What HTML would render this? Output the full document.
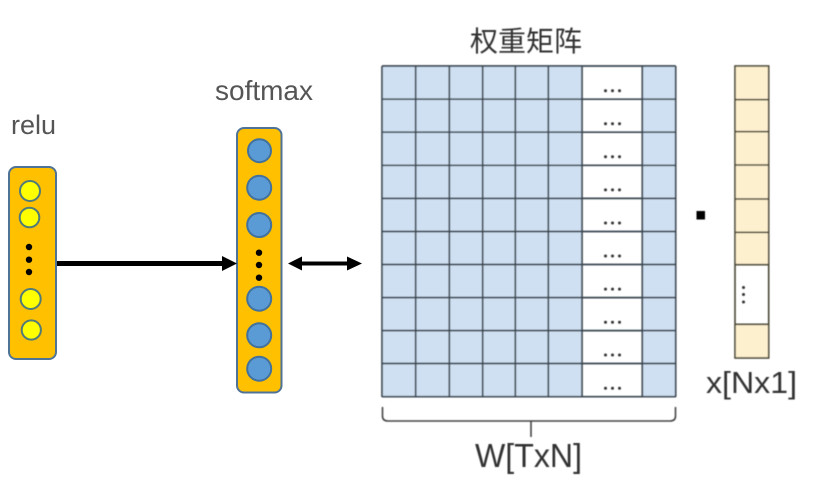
<!DOCTYPE html>
<html><head><meta charset="utf-8"><style>html,body{margin:0;padding:0;background:#fff}svg{display:block}</style></head>
<body>
<svg width="817" height="503" viewBox="0 0 817 503" xmlns="http://www.w3.org/2000/svg">
<defs><filter id="b" x="-5%" y="-5%" width="110%" height="110%"><feGaussianBlur stdDeviation="0.45"/></filter></defs>
<rect width="817" height="503" fill="#fff"/>
<g font-family="'Liberation Sans','Noto Sans CJK SC',sans-serif">
<text x="11" y="134" font-size="27" textLength="45" lengthAdjust="spacingAndGlyphs" fill="#555">relu</text>
<text x="215" y="100" font-size="28" textLength="98" lengthAdjust="spacingAndGlyphs" fill="#555">softmax</text>
</g>

<!-- relu -->
<rect x="9" y="167" width="47" height="192" rx="7" fill="#ffc000" stroke="#4f7396" stroke-width="2"/>
<g fill="#ffff00" stroke="#4f7b78" stroke-width="2">
<circle cx="30" cy="191" r="10"/>
<circle cx="29.5" cy="217.5" r="9.8"/>
<circle cx="30.7" cy="299" r="10"/>
<circle cx="31.3" cy="330" r="9.6"/>
</g>
<g fill="#000"><circle cx="29" cy="247" r="3.2"/><circle cx="29" cy="259.7" r="3.2"/><circle cx="29" cy="272" r="3.2"/></g>

<!-- softmax -->
<rect x="237" y="128" width="44.5" height="264.5" rx="7" fill="#ffc000" stroke="#4f7396" stroke-width="2"/>
<g fill="#5b9bd5" stroke="#41719c" stroke-width="2">
<circle cx="259.5" cy="150.7" r="11.5"/>
<circle cx="259.2" cy="187.7" r="12"/>
<circle cx="259.2" cy="225" r="12"/>
<circle cx="259.2" cy="298.7" r="12"/>
<circle cx="259.2" cy="335.3" r="12"/>
<circle cx="259.2" cy="368.7" r="12"/>
</g>
<g fill="#000"><circle cx="259" cy="252.7" r="3.2"/><circle cx="259" cy="265" r="3.2"/><circle cx="259" cy="277.7" r="3.2"/></g>

<!-- arrows -->
<rect x="57" y="261" width="167" height="5" fill="#000"/>
<polygon points="222,256 237,263.5 222,271" fill="#000"/>
<rect x="298" y="261.5" width="52" height="4" fill="#000"/>
<polygon points="288,263.5 302,256.5 302,270.5" fill="#000"/>
<polygon points="362,263.5 347,256.5 347,270.5" fill="#000"/>

<g filter="url(#b)">
<g font-family="'Liberation Sans','Noto Sans CJK SC',sans-serif">
<text x="470" y="51" font-size="28" textLength="112" fill="#333">权重矩阵</text>
<text x="475" y="467" font-size="33" textLength="107" lengthAdjust="spacingAndGlyphs" fill="#333">W[TxN]</text>
<text x="706" y="393" font-size="31" textLength="91" lengthAdjust="spacingAndGlyphs" fill="#333">x[Nx1]</text>
</g>
<!-- matrix -->
<g fill="#cfe0f2">
<rect x="382" y="66" width="200" height="331"/>
<rect x="642.3" y="66" width="33.4" height="331"/>
</g>
<g stroke="#3a4651" stroke-width="1.7" fill="none">
<path d="M382 66H675.7M382 99.2H675.7M382 132.2H675.7M382 165.3H675.7M382 198.4H675.7M382 231.5H675.7M382 264.5H675.7M382 297.6H675.7M382 330.6H675.7M382 363.5H675.7M382 396.7H675.7"/>
<path d="M382 66V397M415.7 66V397M449.3 66V397M482.7 66V397M515.3 66V397M548.3 66V397M582 66V397M642.3 66V397M675.7 66V397"/>
</g>
<g fill="#333">
<circle cx="605.5" cy="90.7" r="1.5"/><circle cx="612.5" cy="90.7" r="1.5"/><circle cx="619.5" cy="90.7" r="1.5"/>
<circle cx="605.5" cy="123.7" r="1.5"/><circle cx="612.5" cy="123.7" r="1.5"/><circle cx="619.5" cy="123.7" r="1.5"/>
<circle cx="605.5" cy="156.8" r="1.5"/><circle cx="612.5" cy="156.8" r="1.5"/><circle cx="619.5" cy="156.8" r="1.5"/>
<circle cx="605.5" cy="189.9" r="1.5"/><circle cx="612.5" cy="189.9" r="1.5"/><circle cx="619.5" cy="189.9" r="1.5"/>
<circle cx="605.5" cy="223" r="1.5"/><circle cx="612.5" cy="223" r="1.5"/><circle cx="619.5" cy="223" r="1.5"/>
<circle cx="605.5" cy="256" r="1.5"/><circle cx="612.5" cy="256" r="1.5"/><circle cx="619.5" cy="256" r="1.5"/>
<circle cx="605.5" cy="289.1" r="1.5"/><circle cx="612.5" cy="289.1" r="1.5"/><circle cx="619.5" cy="289.1" r="1.5"/>
<circle cx="605.5" cy="322.2" r="1.5"/><circle cx="612.5" cy="322.2" r="1.5"/><circle cx="619.5" cy="322.2" r="1.5"/>
<circle cx="605.5" cy="355" r="1.5"/><circle cx="612.5" cy="355" r="1.5"/><circle cx="619.5" cy="355" r="1.5"/>
<circle cx="605.5" cy="388.2" r="1.5"/><circle cx="612.5" cy="388.2" r="1.5"/><circle cx="619.5" cy="388.2" r="1.5"/>
</g>

<!-- brace -->
<path d="M382.5 407V416Q382.5 421 388 421H670Q675.5 421 675.5 416V407M531 421V437" fill="none" stroke="#444" stroke-width="1.6"/>

<!-- dot operator -->
<rect x="696.5" y="211" width="8.5" height="8.5" fill="#000"/>

<!-- vector -->
<rect x="735" y="66" width="33.7" height="198.7" fill="#fdf0cf"/>
<rect x="735" y="324.3" width="33.7" height="33.7" fill="#fdf0cf"/>
<g stroke="#4a4636" stroke-width="1.6" fill="none">
<rect x="735" y="66" width="33.7" height="292"/>
<path d="M735 99.7H768.7M735 131.7H768.7M735 165H768.7M735 199H768.7M735 232.3H768.7M735 264.7H768.7M735 324.3H768.7"/>
</g>
<g fill="#333"><circle cx="743.5" cy="287.5" r="1.5"/><circle cx="743.5" cy="294.5" r="1.5"/><circle cx="743.5" cy="302" r="1.5"/></g>
</g>
</svg>
</body></html>
